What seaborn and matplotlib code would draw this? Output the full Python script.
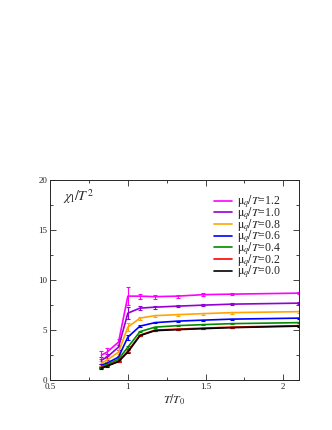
import matplotlib
matplotlib.use("Agg")
import matplotlib.pyplot as plt
import numpy as np
import pandas as pd
import seaborn as sns
from matplotlib.ticker import MultipleLocator

# T/T0 grid of the lattice points
t_over_t0 = [0.83, 0.866, 0.94, 1.0, 1.078, 1.175, 1.32, 1.485, 1.67, 2.1]

mu_labels = ["1.2", "1.0", "0.8", "0.6", "0.4", "0.2", "0.0"]
chi_12 = [2.5, 2.8, 3.8, 8.4, 8.4, 8.35, 8.4, 8.55, 8.6, 8.7]
chi_10 = [2.0, 2.3, 3.3, 6.7, 7.2, 7.3, 7.4, 7.5, 7.6, 7.7]
chi_08 = [1.7, 2.0, 2.8, 5.3, 6.2, 6.45, 6.55, 6.65, 6.75, 6.85]
chi_06 = [1.5, 1.7, 2.3, 4.3, 5.4, 5.75, 5.9, 6.0, 6.1, 6.2]
chi_04 = [1.35, 1.55, 2.1, 3.3, 4.85, 5.3, 5.45, 5.55, 5.65, 5.75]
chi_02 = [1.25, 1.45, 1.9, 2.9, 4.5, 5.0, 5.1, 5.2, 5.3, 5.45]
chi_00 = [1.2, 1.4, 1.85, 2.8, 4.45, 4.95, 5.05, 5.15, 5.25, 5.4]

err_12 = [0.4, 0.4, 0.3, 0.9, 0.25, 0.2, 0.15, 0.15, 0.1, 0.1]
err_10 = [0.35, 0.3, 0.25, 0.6, 0.2, 0.15, 0.1, 0.1, 0.1, 0.1]
err_08 = [0.25, 0.2, 0.2, 0.4, 0.15, 0.1, 0.1, 0.1, 0.1, 0.1]
err_06 = [0.15, 0.15, 0.15, 0.25, 0.1, 0.05, 0.05, 0.05, 0.05, 0.05]
err_04 = [0.1, 0.1, 0.1, 0.15, 0.05, 0.05, 0.05, 0.05, 0.05, 0.05]
err_02 = [0.05, 0.05, 0.05, 0.1, 0.05, 0.05, 0.05, 0.05, 0.05, 0.05]
err_00 = [0.05, 0.05, 0.05, 0.05, 0.05, 0.05, 0.05, 0.05, 0.05, 0.05]

all_chi = [chi_12, chi_10, chi_08, chi_06, chi_04, chi_02, chi_00]
all_err = [err_12, err_10, err_08, err_06, err_04, err_02, err_00]
colors = ["#ff00ff", "#9400d3", "#ffa500", "#0000ff", "#008b00", "#ff0000", "#000000"]

rows = []
for lab, chi, err in zip(mu_labels, all_chi, all_err):
    for t, c, e in zip(t_over_t0, chi, err):
        rows.append({"T": t, "chi": c, "err": e, "mu": lab})
df = pd.DataFrame(rows)

sns.set_style("ticks")
plt.rcParams["font.family"] = ["Liberation Serif", "DejaVu Serif"]
plt.rcParams["mathtext.fontset"] = "stix"

fig = plt.figure(figsize=(3.32, 4.30), dpi=100)
ax = fig.add_axes([0.151, 0.116, 0.749, 0.465])

# draw from the bottom series up so magenta sits on top
for lab, col in list(zip(mu_labels, colors))[::-1]:
    sub = df[df["mu"] == lab]
    ax.errorbar(sub["T"], sub["chi"], yerr=sub["err"], fmt="none",
                ecolor=col, elinewidth=0.8, capsize=1.2, capthick=0.8)

sns.lineplot(data=df, x="T", y="chi", hue="mu", hue_order=mu_labels,
             palette=colors, linewidth=1.2, ax=ax, sort=False, estimator=None)

ax.set_xlim(0.5, 2.1)
ax.set_ylim(0, 20)
ax.xaxis.set_major_locator(MultipleLocator(0.5))
ax.xaxis.set_minor_locator(MultipleLocator(0.25))
ax.yaxis.set_major_locator(MultipleLocator(5))
ax.yaxis.set_minor_locator(MultipleLocator(2.5))
ax.set_xticks([0.5, 1, 1.5, 2])
ax.set_xticklabels(["0.5", "1", "1.5", "2"])
ax.tick_params(which="both", direction="in", top=True, right=True,
               labelsize=6.5, width=0.6, pad=2)
ax.tick_params(which="major", length=4)
ax.tick_params(which="minor", length=2)
for s in ax.spines.values():
    s.set_linewidth(0.7)

ax.set_xlabel(r"$T/T_0$", fontsize=8.5, labelpad=1)
ax.set_ylabel("")
ax.text(0.05, 0.895, r"$\chi_\mathrm{l}/T^2$", transform=ax.transAxes, fontsize=10)

handles, labels = ax.get_legend_handles_labels()
ax.legend(handles, [r"$\mathrm{\mu}_q/T$=" + l for l in labels], loc="upper right",
          bbox_to_anchor=(0.955, 0.97), frameon=False, fontsize=8.5,
          handlelength=1.5, handletextpad=0.4, labelspacing=-0.45,
          borderaxespad=0.2)

fig.savefig("out.png", dpi=100)
